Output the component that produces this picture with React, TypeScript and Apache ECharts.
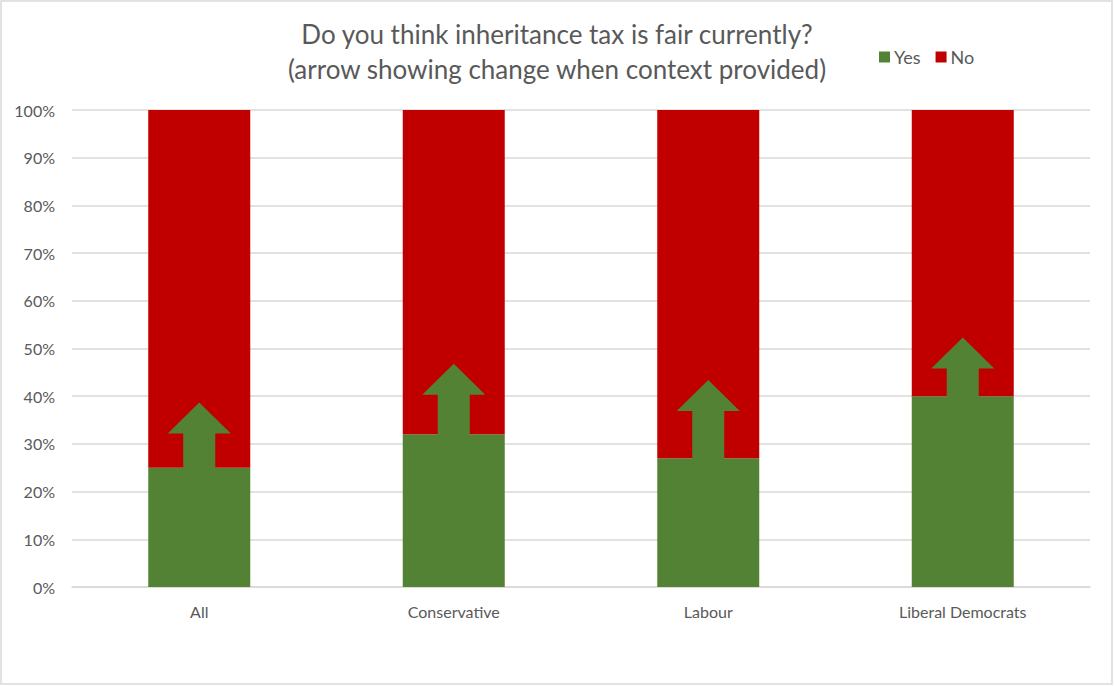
import React, { useEffect, useRef } from "react";
import * as echarts from "echarts";

const categories = ["All", "Conservative", "Labour", "Liberal Democrats"];
const yesValues = [25, 32, 27, 40];
const noValues = [75, 68, 73, 60];
// where the arrow tip points (Yes share when context was provided)
const withContextValues = [38.7, 46.8, 43.4, 52.3];
const yTicks = { min: 0, max: 100, interval: 10 };

const GREEN = "#548235";
const RED = "#C00000";
const TEXT = "#595959";
const GRID = "#d9d9d9";
const FONT = "Lato, 'Open Sans', sans-serif";

export default function App() {
  const ref = useRef<HTMLDivElement>(null);
  useEffect(() => {
    if (!ref.current) return;
    const chart = echarts.init(ref.current, undefined, { renderer: "svg" });
    chart.setOption({
      animation: false,
      backgroundColor: "#ffffff",
      textStyle: { fontFamily: FONT },
      title: {
        text: "Do you think inheritance tax is fair currently?\n(arrow showing change when context provided)",
        left: "center",
        top: 11,
        textStyle: {
          fontFamily: FONT,
          fontSize: 26,
          fontWeight: "normal",
          color: TEXT,
          lineHeight: 35,
        },
      },
      legend: {
        left: 874,
        top: 43,
        itemWidth: 11,
        itemHeight: 11,
        itemGap: 15,
        icon: "rect",
        data: ["Yes", "No"],
        textStyle: { fontFamily: FONT, fontSize: 18, color: TEXT, padding: [0, 0, 0, -1] },
      },
      graphic: [
        {
          type: "rect",
          shape: { x: 1, y: 1, width: 1111, height: 683 },
          style: { fill: "none", stroke: GRID, lineWidth: 1.5 },
          silent: true,
          z: 100,
        },
      ],
      grid: { left: 72, right: 24, top: 110, bottom: 99, containLabel: false },
      xAxis: {
        type: "category",
        data: categories,
        axisTick: { show: false },
        axisLine: { lineStyle: { color: GRID, width: 1.5 } },
        axisLabel: { fontFamily: FONT, fontSize: 16, color: TEXT, margin: 16 },
      },
      yAxis: {
        type: "value",
        min: yTicks.min,
        max: yTicks.max,
        interval: yTicks.interval,
        axisLine: { show: false },
        axisTick: { show: false },
        splitLine: { lineStyle: { color: GRID, width: 1.5 } },
        axisLabel: {
          formatter: "{value}%",
          fontFamily: FONT,
          fontSize: 16,
          color: TEXT,
          margin: 17,
        },
      },
      series: [
        {
          name: "Yes",
          type: "bar",
          stack: "total",
          barWidth: 102,
          itemStyle: { color: GREEN },
          data: yesValues,
        },
        {
          name: "No",
          type: "bar",
          stack: "total",
          barWidth: 102,
          itemStyle: { color: RED },
          data: noValues,
        },
        {
          name: "arrow",
          type: "custom",
          z: 5,
          encode: { x: 0, y: [1, 2] },
          data: categories.map((_, i) => [i, yesValues[i], withContextValues[i]]),
          renderItem: (params: any, api: any) => {
            const idx = api.value(0);
            const base = api.coord([idx, api.value(1)]);
            const tip = api.coord([idx, api.value(2)]);
            const x = base[0];
            const headH = 31;
            const shaftW = 32;
            const headW = 63;
            const headBaseY = tip[1] + headH;
            const by = base[1] + 1;
            const points = [
              [x - shaftW / 2, by],
              [x - shaftW / 2, headBaseY],
              [x - headW / 2, headBaseY],
              [x, tip[1]],
              [x + headW / 2, headBaseY],
              [x + shaftW / 2, headBaseY],
              [x + shaftW / 2, by],
            ];
            return {
              type: "polygon",
              shape: { points },
              style: { fill: GREEN },
            };
          },
        },
      ],
    });
    return () => chart.dispose();
  }, []);
  return (
    <div
      ref={ref}
      style={{ position: "fixed", left: 0, top: 0, width: 1114, height: 686, background: "#fff" }}
    />
  );
}
